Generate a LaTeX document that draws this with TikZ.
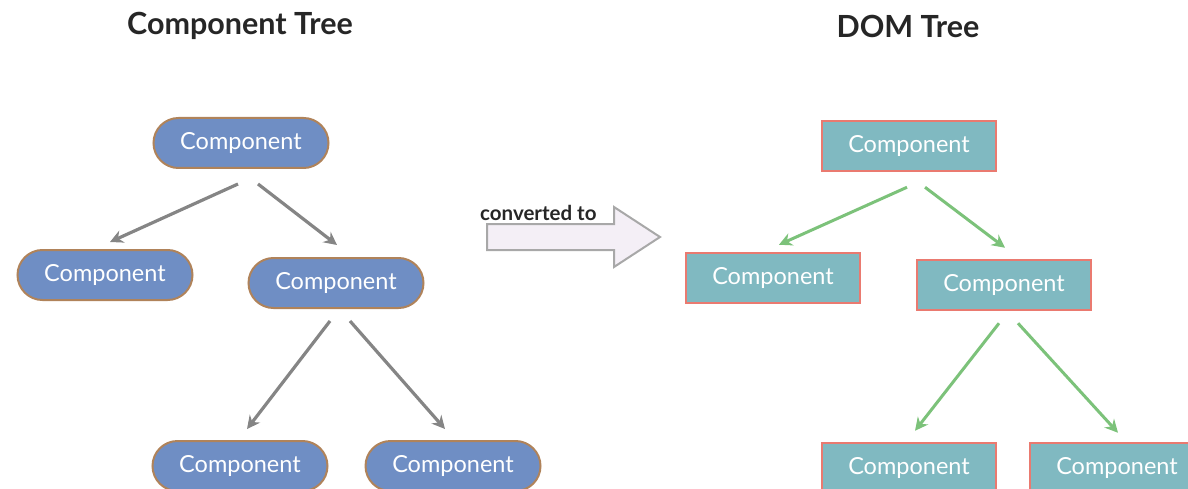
\documentclass[tikz,border=0pt]{standalone}
\usepackage{fontspec}
\setmainfont{Lato}
\usetikzlibrary{calc,arrows.meta}
\definecolor{compblue}{HTML}{6F8EC4}
\definecolor{compbrown}{HTML}{B0835A}
\definecolor{domteal}{HTML}{80B9C1}
\definecolor{domred}{HTML}{EA7A70}
\definecolor{arrgray}{HTML}{858585}
\definecolor{arrgreen}{HTML}{7CC27A}
\definecolor{bigfill}{HTML}{F4EFF6}
\definecolor{bigline}{HTML}{A8A8A8}
\tikzset{
  comp/.style={draw=compbrown, line width=2pt, fill=compblue, rounded corners=25pt,
    minimum width=175pt, minimum height=50pt, text=white, font=\fontsize{23.5}{23.5}\selectfont, inner sep=0pt},
  dom/.style={draw=domred, line width=2.5pt, fill=domteal,
    minimum width=174pt, minimum height=50pt, text=white, font=\fontsize{23.5}{23.5}\selectfont, inner sep=0pt},
  garrow/.style={draw=arrgray, line width=3.2pt, -{Stealth[length=13pt,width=13pt]}},
  darrow/.style={draw=arrgreen, line width=3pt, -{Stealth[length=13pt,width=13pt]}},
  title/.style={font=\bfseries\fontsize{30.5}{30.5}\selectfont, text=black!85},
}
\begin{document}
\begin{tikzpicture}[x=1pt,y=-1pt]
\useasboundingbox (0,0) rectangle (1188,489);
\clip (0,0) rectangle (1188,489);
\node[title] (t1) at (240,26) {Component Tree};
\node[title] (t2) at (908,26) {DOM Tree};
% component tree
\node[comp] (c0) at (241,143) {Component};
\node[comp] (c1) at (105,275) {Component};
\node[comp] (c2) at (336,283) {Component};
\node[comp] (c3) at (240,466) {Component};
\node[comp] (c4) at (453,466) {Component};
\draw[garrow] ($(c0.south)+(-3,15)$) -- ($(c1.north)+(5,-7)$);
\draw[garrow] ($(c0.south)+(17,15)$) -- ($(c2.north)+(1,-12)$);
\draw[garrow] ($(c2.south)+(-6,12)$) -- ($(c3.north)+(7,-11)$);
\draw[garrow] ($(c2.south)+(14,12)$) -- ($(c4.north)+(-8,-11)$);
% big arrow
\draw[draw=bigline, fill=bigfill, line width=2pt, line join=miter]
  (487,224) coordinate (ba) -- (614,224) -- (614,207) -- (660,237) coordinate (bt) -- (614,267) -- (614,250) -- (487,250) -- cycle;
\node[font=\bfseries\fontsize{20.5}{20.5}\selectfont, text=black!85, anchor=base west, inner sep=0pt] (conv) at (480,221) {converted to};
% DOM tree
\node[dom] (d0) at (909,146) {Component};
\node[dom] (d1) at (773,278) {Component};
\node[dom] (d2) at (1004,285) {Component};
\node[dom] (d3) at (909,468) {Component};
\node[dom] (d4) at (1117,468) {Component};
\draw[darrow] ($(d0.south)+(-2,15)$) -- ($(d1.north)+(6,-7)$);
\draw[darrow] ($(d0.south)+(16,15)$) -- ($(d2.north)+(1,-11)$);
\draw[darrow] ($(d2.south)+(-5,12)$) -- ($(d3.north)+(6,-11)$);
\draw[darrow] ($(d2.south)+(14,12)$) -- ($(d4.north)+(1,-9)$);
\end{tikzpicture}
\end{document}
